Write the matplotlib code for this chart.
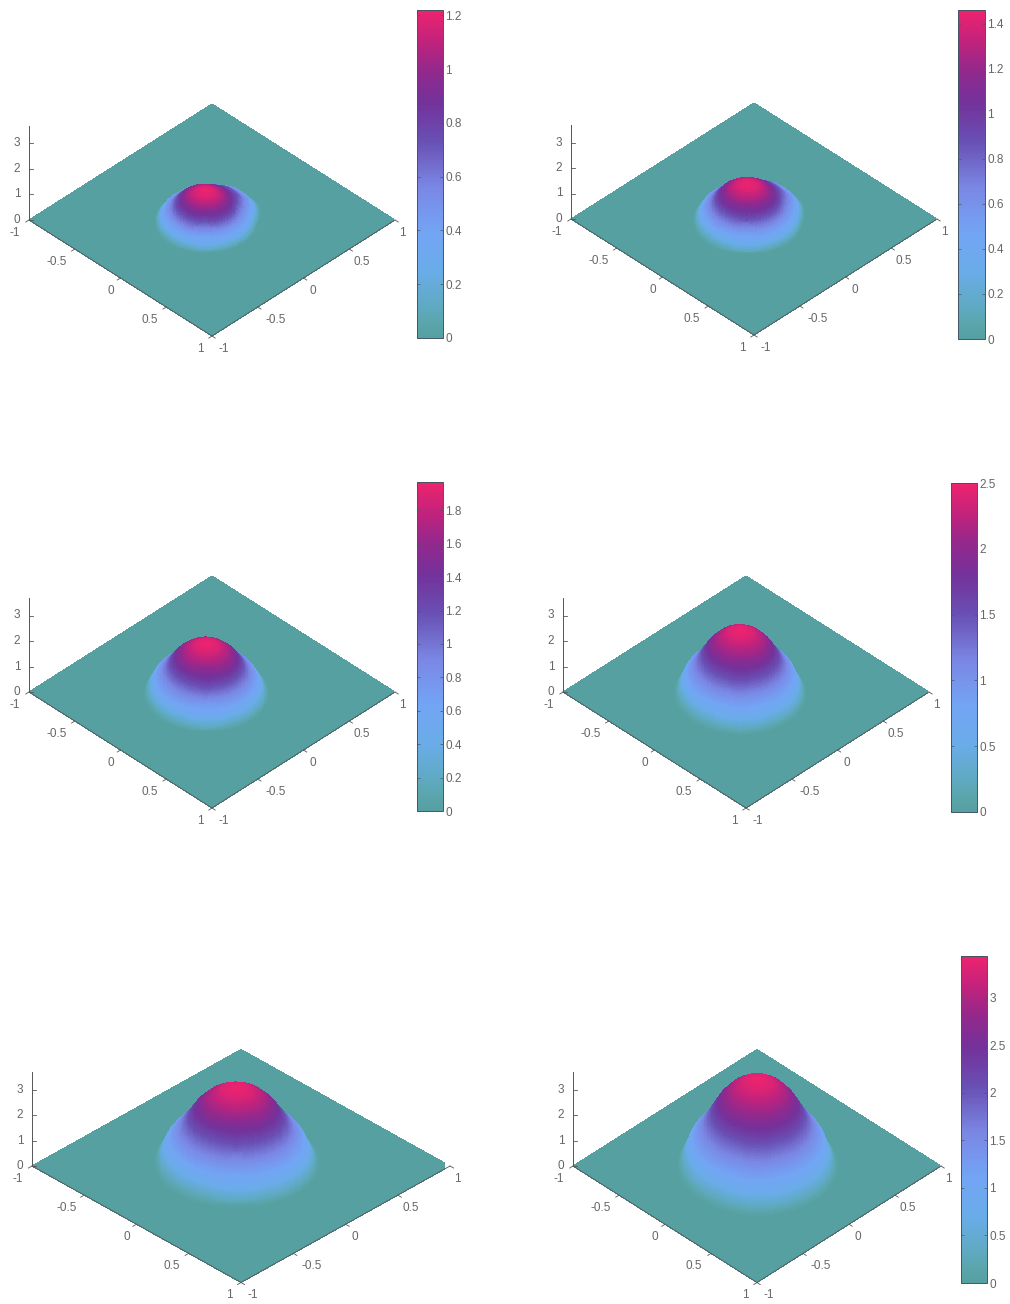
import numpy as np
import matplotlib
matplotlib.use("Agg")
import matplotlib.pyplot as plt
from matplotlib.colors import LinearSegmentedColormap, Normalize
from matplotlib.cm import ScalarMappable
from mpl_toolkits.mplot3d import proj3d

plt.rcParams['font.family'] = ['Liberation Sans', 'DejaVu Sans']

W, H = 1010, 1304
TXT = '#666666'
LINE = '#555555'

# colour table
CM_POS = [0.0, 0.04, 0.10, 0.20, 0.32, 0.46, 0.60, 0.72, 0.82, 0.90, 1.0]
CM_RGB = [(86,160,162), (90,165,170), (95,170,195), (105,172,232), (115,165,245),
          (122,135,228), (105,80,180), (115,50,155), (148,40,140), (190,35,125), (238,35,110)]

# peak height, hump radius and hump centre of each panel
PEAK = [1.22, 1.46, 1.97, 2.50, 3.00, 3.44]
RADIUS = [0.35, 0.375, 0.43, 0.455, 0.50, 0.55]
CENTRE_A = [-0.02, -0.02, -0.02, -0.02, -0.05, 0.0]
CENTRE_B = [-0.06, -0.06, -0.05, -0.05, 0.0, 0.0]
# sideways bulge of the hump rim towards the upper right of the view
RIM_GAIN = [0.18, 0.14, 0.0, 0.0, 0.0, 0.0]
RIM_ANGLE = [0, 40, 70, 100, 140, 360]
RIM_WEIGHT = [0, 0.2, 1, 1, 0, 0]

# radial profile (fractions of radius and of peak)
PROFILE_R = [0.0, 0.2, 0.4, 0.55, 0.7, 0.8, 0.88, 0.94, 1.0, 1.06, 1.12]
PROFILE_H = [1.0, 0.96, 0.85, 0.72, 0.53, 0.42, 0.35, 0.28, 0.17, 0.06, 0.0]

# panel layout in pixels: centre x, centre y, half width, half height
PANEL_CX = [212, 754, 212, 746, 241, 757]
PANEL_CY = [220, 219, 692, 692, 1166, 1166]
PANEL_HW = [183, 183, 183, 183, 209, 184]
PANEL_HH = [116, 116, 116, 116, 116.5, 116.5]
Z_PX = [25.5, 25.5, 25.5, 25.5, 25.3, 25.3]

# colour bars: left, right, top, bottom in pixels, with tick values
CB_BOX = [(417, 443, 10, 338), (958, 985, 10, 339), (417, 443, 482, 811),
          (951, 977, 483, 812), None, (961, 987, 956, 1283)]
CB_TICKS = [[0, .2, .4, .6, .8, 1, 1.2], [0, .2, .4, .6, .8, 1, 1.2, 1.4],
            [0, .2, .4, .6, .8, 1, 1.2, 1.4, 1.6, 1.8], [0, .5, 1, 1.5, 2, 2.5], None,
            [0, .5, 1, 1.5, 2, 2.5, 3]]

XY_TICKS = [-1, -0.5, 0, 0.5, 1]
Z_TICKS = [0, 1, 2, 3]
Z_TOP = 3.7
# label offsets from the tick, in pixels
FRONT_LEFT_DX = [-14, -18, -10, -17, -12]
FRONT_RIGHT_DX = [12, 18, 9, 13, 7]
LABEL_DY = 13
Z_LABEL_DX = -12

cmap = LinearSegmentedColormap.from_list(
    'hump', [(p, tuple(c / 255 for c in rgb)) for p, rgb in zip(CM_POS, CM_RGB)], N=256)


def fmt(v):
    return f'{v:g}'


fig = plt.figure(figsize=(W / 100, H / 100), dpi=100)


def to_px(ax, x, y, z):
    xs, ys, _ = proj3d.proj_transform(np.atleast_1d(x), np.atleast_1d(y), np.atleast_1d(z), ax.get_proj())
    return ax.transData.transform(np.column_stack([xs, ys]))


def place(ax, cx, cy, hw):
    size = 2.2 * hw
    dx = dy = 0.0
    for _ in range(5):
        ax.set_position([(cx - size / 2 + dx) / W, (H - cy - size / 2 + dy) / H, size / W, size / H])
        ax.apply_aspect()
        p = to_px(ax, np.array([-1, 1, 1, -1.]), np.array([-1, -1, 1, 1.]), np.zeros(4))
        cur_hw = (p[:, 0].max() - p[:, 0].min()) / 2
        size *= hw / cur_hw
        dx += cx - (p[:, 0].max() + p[:, 0].min()) / 2
        dy += (H - cy) - (p[:, 1].max() + p[:, 1].min()) / 2


def label(ax, x, y, z, s, off_x, off_y):
    px = to_px(ax, x, y, z)[0]
    fig.text((px[0] + off_x) / W, (px[1] - off_y) / H, s, color=TXT, fontsize=8.5,
             ha='center', va='center')


a = np.linspace(-1, 1, 241)
A, B = np.meshgrid(a, a, indexing='ij')

for i in range(6):
    hw, hh = PANEL_HW[i], PANEL_HH[i]
    el = np.degrees(np.arcsin(hh / hw))
    k = hw / np.sqrt(2)
    kz = Z_PX[i] / np.cos(np.radians(el))
    ax = fig.add_axes([0, 0, 0.3, 0.3], projection='3d', proj_type='ortho', computed_zorder=False)
    ax.view_init(elev=el, azim=-45)
    ax.set_box_aspect((2, 2, Z_TOP * kz / k))
    ax.set_xlim(-1, 1)
    ax.set_ylim(-1, 1)
    ax.set_zlim(0, Z_TOP)
    ax.set_axis_off()
    ax.patch.set_alpha(0)
    place(ax, PANEL_CX[i], PANEL_CY[i], hw)

    DA, DB = A - CENTRE_A[i], B - CENTRE_B[i]
    R = np.hypot(DA, DB) / RADIUS[i]
    ang = np.degrees(np.arctan2(DB, DA)) % 360
    bulge = RIM_GAIN[i] * np.interp(ang, RIM_ANGLE, RIM_WEIGHT) * np.clip((R - 0.5) / 0.3, 0, 1)
    Z = np.interp(R / (1 + bulge), PROFILE_R, PROFILE_H) * PEAK[i]
    norm = Normalize(0, PEAK[i])
    ax.plot_surface(A, B, Z, facecolors=cmap(norm(Z)), rstride=1, cstride=1, shade=False,
                    linewidth=0, antialiased=False, zorder=2)

    # box lines and ticks
    ax.plot([-1, -1], [-1, -1], [0, Z_TOP], color=LINE, lw=0.7, zorder=3, clip_on=False)
    ax.plot([-1, 1], [-1, -1], [0, 0], color=LINE, lw=0.6, zorder=3, clip_on=False)
    ax.plot([1, 1], [-1, 1], [0, 0], color=LINE, lw=0.6, zorder=3, clip_on=False)
    for j, t in enumerate(XY_TICKS):
        ax.plot([t, t], [-1, -1.035], [0, 0], color=LINE, lw=0.6, zorder=3, clip_on=False)
        ax.plot([1, 1.035], [t, t], [0, 0], color=LINE, lw=0.6, zorder=3, clip_on=False)
        label(ax, t, -1, 0, fmt(t), FRONT_LEFT_DX[j], LABEL_DY)
        label(ax, 1, t, 0, fmt(t), FRONT_RIGHT_DX[j], LABEL_DY)
    for t in Z_TICKS:
        ax.plot([-1, -0.98], [-1, -0.98], [t, t], color=LINE, lw=0.6, zorder=3, clip_on=False)
        label(ax, -1, -1, t, fmt(t), Z_LABEL_DX, 0)

    if CB_BOX[i] is not None:
        l, r, t, b = CB_BOX[i]
        cax = fig.add_axes([l / W, (H - b) / H, (r - l) / W, (b - t) / H])
        cb = fig.colorbar(ScalarMappable(norm=norm, cmap=cmap), cax=cax)
        cb.set_ticks(CB_TICKS[i], labels=[fmt(v) for v in CB_TICKS[i]])
        cb.ax.tick_params(axis='y', which='major', direction='in', length=2, width=0.5, pad=1.5,
                          labelsize=8.5, labelcolor=TXT, color=LINE, left=True, right=True)
        cb.outline.set_edgecolor('#445566')
        cb.outline.set_linewidth(0.7)

fig.savefig('out.png', dpi=100)
